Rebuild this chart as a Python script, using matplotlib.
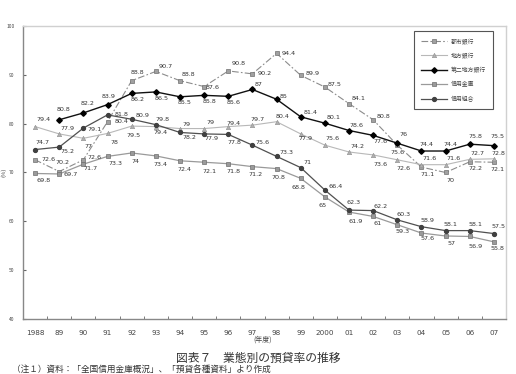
import matplotlib
matplotlib.use("Agg")
import matplotlib.pyplot as plt
import numpy as np

plt.rcParams["font.family"] = ["Noto Sans CJK JP", "DejaVu Sans"]

# Data
years = ["1988", "89", "90", "91", "92", "93", "94", "95", "96", "97",
         "98", "99", "2000", "01", "02", "03", "04", "05", "06", "07"]

toshi = [72.6, 70.2, 72.6, 80.4, 88.8, 90.7, 88.8, 87.6, 90.8, 90.2,
         94.4, 89.9, 87.5, 84.1, 80.8, 75.6, 71.1, 70.0, 72.2, 72.1]
chiho = [79.4, 77.9, 77.0, 78.0, 79.5, 79.4, 79.0, 79.0, 79.4, 79.7,
         80.4, 77.9, 75.6, 74.2, 73.6, 72.6, 71.6, 71.6, 72.7, 72.8]
daini = [np.nan, 80.8, 82.2, 83.9, 86.2, 86.5, 85.5, 85.8, 85.6, 87.0,
         85.0, 81.4, 80.1, 78.6, 77.6, 76.0, 74.4, 74.4, 75.8, 75.5]
shinkin = [69.8, 69.7, 71.7, 73.3, 74.0, 73.4, 72.4, 72.1, 71.8, 71.2,
           70.8, 68.8, 65.0, 61.9, 61.0, 59.3, 57.6, 57.0, 56.9, 55.8]
shinkumi = [74.7, 75.2, 79.1, 81.8, 80.9, 79.8, 78.2, 77.9, 77.8, 75.6,
            73.3, 71.0, 66.4, 62.3, 62.2, 60.3, 58.9, 58.1, 58.1, 57.5]

labels = ["都市銀行", "地方銀行", "第二地方銀行", "信用金庫", "信用組合"]

# label offsets in pixels (dx, dy up)
off_toshi = [(13, 0), (3, 9), (11, 2), (14, 0), (6, 8), (10, 5), (8, 6), (8, -1),
             (10, 7), (12, 0), (12, 0), (12, 2), (10, 3), (10, 5), (10, 3),
             (0, -7), (6, -7), (5, -8), (6, -7), (4, -7)]
off_chiho = [(8, 7), (8, 5), (5, -8), (7, -9), (2, -9), (5, -6), (7, 4), (6, 6),
             (5, 3), (5, 6), (6, 5), (5, -5), (8, 7), (8, 5), (7, -10), (6, -9),
             (8, 6), (8, 6), (8, 6), (4, 5)]
off_daini = [(0, 0), (4, 10), (4, 9), (1, 8), (6, -6), (6, -7), (5, -6), (5, -6),
             (5, -6), (6, 5), (7, 3), (10, 4), (9, 6), (7, 5), (7, -6), (6, 9),
             (5, 7), (5, 7), (6, 8), (4, 9)]
off_shinkin = [(8, -7), (11, -1), (7, -4), (8, -7), (4, -9), (5, -9), (5, -9),
               (5, -9), (5, -8), (3, -8), (2, -9), (-2, -9), (-2, -9), (7, -9),
               (4, -7), (5, -7), (6, -5), (6, -8), (6, -10), (4, -7)]
off_shinkumi = [(7, 7), (8, -4), (11, -1), (14, 0), (11, 4), (7, 5), (9, -5),
                (7, -5), (6, -8), (10, 3), (10, 4), (7, 5), (11, 4), (5, 8),
                (7, 4), (6, 5), (6, 6), (5, 6), (6, 6), (5, 7)]

fig = plt.figure(figsize=(5.16, 3.74), dpi=100)
ax = fig.add_axes([23 / 516, 1 - 319 / 374, 483 / 516, 293 / 374])

x = np.arange(len(years))

styles = [
    dict(color="#8c8c8c", linestyle=(0, (6, 2, 1.5, 2)), linewidth=0.8, marker="s",
         markersize=3.0, markerfacecolor="#a0a0a0", markeredgecolor="#707070",
         markeredgewidth=0.5),
    dict(color="#b8b8b8", linestyle="-", linewidth=0.8, marker="^", markersize=3.2,
         markerfacecolor="#b0b0b0", markeredgecolor="#909090", markeredgewidth=0.4),
    dict(color="#111111", linestyle="-", linewidth=1.0, marker="D", markersize=2.8,
         markerfacecolor="#000000", markeredgecolor="#000000"),
    dict(color="#9a9a9a", linestyle="-", linewidth=0.9, marker="s", markersize=3.3,
         markerfacecolor="#9a9a9a", markeredgecolor="#6e6e6e", markeredgewidth=0.5),
    dict(color="#505050", linestyle="-", linewidth=0.9, marker="o", markersize=2.8,
         markerfacecolor="#404040", markeredgecolor="#404040"),
]

series = [toshi, chiho, daini, shinkin, shinkumi]
offsets = [off_toshi, off_chiho, off_daini, off_shinkin, off_shinkumi]

for vals, st, lab, offs in zip(series, styles, labels, offsets):
    ax.plot(x, vals, label=lab, **st)
    for xi, v, (dx, dy) in zip(x, vals, offs):
        if np.isnan(v):
            continue
        ax.annotate(f"{v:g}", (xi, v), xytext=(dx, dy), textcoords="offset pixels",
                    ha="center", va="center", fontsize=4.6, color="#333333",
                    family="DejaVu Sans")

ax.set_xlim(-0.5, len(years) - 0.5)
ax.set_ylim(40, 100)
ax.set_yticks(range(40, 101, 10))
ax.set_yticklabels([str(v) for v in range(40, 101, 10)], fontsize=3.5,
                   color="#444444")
ax.set_xticks(x)
ax.set_xticklabels(years, fontsize=5.2, color="#444444", family="Liberation Sans Narrow")
ax.set_xticks(x[:-1] + 0.5, minor=True)
ax.tick_params(axis="x", which="major", length=0, pad=8)
ax.tick_params(axis="x", which="minor", length=2, direction="in", color="#666666")
ax.tick_params(axis="y", length=2, direction="in", color="#666666", pad=6)

for side in ["left", "bottom"]:
    ax.spines[side].set_color("#888888")
    ax.spines[side].set_linewidth(1.0)
for side in ["top", "right"]:
    ax.spines[side].set_color("#d0d0d0")
    ax.spines[side].set_linewidth(1.0)

leg = ax.legend(loc="upper right", bbox_to_anchor=(0.973, 0.983), fontsize=4.2,
                handlelength=4.5, labelspacing=1.45, borderpad=1.2,
                handletextpad=0.6, fancybox=False, framealpha=1, borderaxespad=0)
leg.get_frame().set_edgecolor("#555555")
leg.get_frame().set_linewidth(0.8)
for t in leg.get_texts():
    t.set_color("#444444")

fig.text(4 / 516, 1 - 172 / 374, "(%)", rotation=90, fontsize=4.2, color="#444444",
         ha="center", va="center")
fig.text(263 / 516, 1 - 340 / 374, "(年度)", fontsize=5, color="#444444",
         ha="center", va="center")
fig.text(258 / 516, 1 - 358 / 374, "図表７　業態別の預貸率の推移", fontsize=8.5,
         color="#333333", ha="center", va="center")
fig.text(12 / 516, 0.0, "（注１）資料：「全国信用金庫概況」、「預貸各種資料」より作成",
         fontsize=6.2, color="#333333", ha="left", va="bottom")

fig.savefig("out.png", dpi=100)
